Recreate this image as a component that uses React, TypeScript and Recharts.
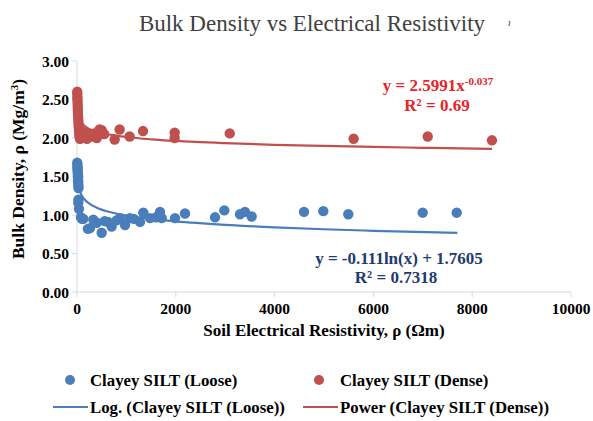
import { ComposedChart, Scatter, Line, XAxis, YAxis } from "recharts";

// Clayey SILT (Loose) - resistivity (Ωm) / bulk density (Mg/m³)
const looseX = [
  5, 8, 10, 12, 15, 18, 20, 22, 25, 28, 30, 14, 24,
  30, 25, 40, 100, 80,
  128, 263, 330, 500, 628, 702, 870, 972, 1073, 1275, 1342, 1478, 1680,
  1715, 1984, 2186, 2794, 2982, 3300, 3401, 3536, 4595, 4986, 5492, 6998, 7686,
  220, 400, 560, 800, 1150, 1600,
];
const looseY = [
  1.68, 1.65, 1.62, 1.58, 1.55, 1.52, 1.48, 1.45, 1.42, 1.38, 1.35, 1.6, 1.5,
  1.2, 1.16, 1.08, 0.95, 0.97,
  0.95, 0.83, 0.94, 0.77, 0.91, 0.85, 0.96, 0.87, 0.96, 0.91, 1.03, 0.96, 1.04,
  0.96, 0.96, 1.02, 0.97, 1.06, 1.01, 1.04, 0.98, 1.04, 1.05, 1.01, 1.03, 1.03,
  0.82, 0.9, 0.92, 0.93, 0.95, 0.97,
];

// Clayey SILT (Dense)
const denseX = [
  5, 6, 8, 10, 12, 14, 16, 18, 20, 24, 28, 32, 36, 40, 45, 50, 60,
  80, 100, 120, 150, 180, 200, 250, 300, 350, 400, 450, 500, 550,
  458, 762, 863, 1066, 1336, 1977, 1977, 3092, 5600, 7100, 8400,
];
const denseY = [
  2.6, 2.57, 2.53, 2.5, 2.46, 2.42, 2.38, 2.34, 2.3, 2.26, 2.22, 2.18, 2.14, 2.1, 2.06, 2.02, 1.99,
  2.05, 2.0, 2.08, 2.02, 2.06, 1.99, 2.04, 2.02, 2.06, 2.0, 2.08, 2.1, 2.05,
  2.11, 1.98, 2.11, 2.02, 2.09, 2.07, 2.0, 2.06, 1.99, 2.02, 1.97,
];

// trendlines
const logX = [25, 40, 60, 100, 150, 250, 400, 700, 1000, 1500, 2000, 3000, 4000, 5000, 6000, 7700];
const logY = [1.403, 1.351, 1.306, 1.249, 1.204, 1.148, 1.095, 1.033, 0.994, 0.949, 0.917, 0.872, 0.84, 0.815, 0.795, 0.767];
const powX = [8, 15, 30, 60, 100, 200, 400, 700, 1000, 1500, 2000, 3000, 4000, 5000, 6000, 7000, 8400];
const powY = [2.407, 2.351, 2.292, 2.234, 2.192, 2.136, 2.082, 2.04, 2.013, 1.983, 1.962, 1.933, 1.912, 1.897, 1.884, 1.873, 1.86];

const xTicks = [0, 2000, 4000, 6000, 8000, 10000];
const yTicks = [0, 0.5, 1, 1.5, 2, 2.5, 3];

const zip = (xs: number[], ys: number[]) => xs.map((x, i) => ({ x, y: ys[i] }));

const BLUE = "#4a7ebb";
const RED = "#c0504d";
const FONT = "'Liberation Serif', 'Times New Roman', serif";

export default function App() {
  const tick = { fill: "#000", fontSize: 15.5, fontWeight: 700, fontFamily: FONT };
  return (
    <div style={{ position: "absolute", left: 0, top: 0, width: 593, height: 421, background: "#fff" }}>
      <ComposedChart
        width={593}
        height={421}
        margin={{ top: 61, right: 22, left: 0, bottom: 99 }}
      >
        <XAxis
          type="number"
          dataKey="x"
          domain={[0, 10000]}
          ticks={xTicks}
          height={30}
          stroke="#d9d9d9"
          tickSize={5}
          tickMargin={6}
          tick={tick}
        />
        <YAxis
          type="number"
          dataKey="y"
          domain={[0, 3]}
          ticks={yTicks}
          width={77}
          stroke="#d9d9d9"
          tickSize={5}
          tickMargin={3}
          tick={tick}
          tickFormatter={(v: number) => v.toFixed(2)}
        />
        <Scatter data={zip(looseX, looseY)} fill={BLUE} isAnimationActive={false} shape={(p: any) => <circle cx={p.cx} cy={p.cy} r={5.2} fill={BLUE} />} />
        <Scatter data={zip(denseX, denseY)} fill={RED} isAnimationActive={false} shape={(p: any) => <circle cx={p.cx} cy={p.cy} r={5.2} fill={RED} />} />
        <Line data={zip(logX, logY)} dataKey="y" type="monotone" stroke={BLUE} strokeWidth={2.2} dot={false} isAnimationActive={false} />
        <Line data={zip(powX, powY)} dataKey="y" type="monotone" stroke={RED} strokeWidth={2.2} dot={false} isAnimationActive={false} />
      </ComposedChart>

      <svg width={593} height={421} style={{ position: "absolute", left: 0, top: 0, pointerEvents: "none" }} fontFamily={FONT}>
        <text x={312} y={31} textAnchor="middle" fontSize={23} fill="#404040">
          Bulk Density  vs Electrical Resistivity
        </text>
        <text x={508} y={26} fontSize={10} fontStyle="italic" fill="#404040">ı</text>

        <text x={324} y={336} textAnchor="middle" fontSize={17} fontWeight={700} fill="#000">
          Soil Electrical Resistivity, ρ (Ωm)
        </text>
        <text transform="translate(24,169) rotate(-90)" textAnchor="middle" fontSize={17.5} fontWeight={700} fill="#000">
          Bulk Density, ρ (Mg/m<tspan dy={-6} fontSize={11}>3</tspan><tspan dy={6}>)</tspan>
        </text>

        <text x={438} y={91} textAnchor="middle" fontSize={17} fontWeight={700} fill="#e8232a">
          y = 2.5991x<tspan dy={-6} fontSize={11}>-0.037</tspan>
        </text>
        <text x={437} y={111} textAnchor="middle" fontSize={17} fontWeight={700} fill="#e8232a">
          R² = 0.69
        </text>
        <text x={399} y={264} textAnchor="middle" fontSize={17} fontWeight={700} fill="#1f3a6e">
          y = -0.111ln(x) + 1.7605
        </text>
        <text x={396} y={283} textAnchor="middle" fontSize={17} fontWeight={700} fill="#1f3a6e">
          R² = 0.7318
        </text>

        <circle cx={70} cy={380} r={5} fill={BLUE} />
        <text x={90} y={386} fontSize={16.8} fontWeight={700} fill="#000">Clayey SILT (Loose)</text>
        <circle cx={319} cy={380} r={5} fill={RED} />
        <text x={340} y={386} fontSize={16.8} fontWeight={700} fill="#000">Clayey SILT (Dense)</text>
        <line x1={53} y1={407} x2={88} y2={407} stroke={BLUE} strokeWidth={2.2} />
        <text x={90} y={413} fontSize={16.8} fontWeight={700} fill="#000">Log. (Clayey SILT (Loose))</text>
        <line x1={303} y1={407} x2={338} y2={407} stroke={RED} strokeWidth={2.2} />
        <text x={340} y={413} fontSize={16.8} fontWeight={700} fill="#000">Power (Clayey SILT (Dense))</text>
      </svg>
    </div>
  );
}
